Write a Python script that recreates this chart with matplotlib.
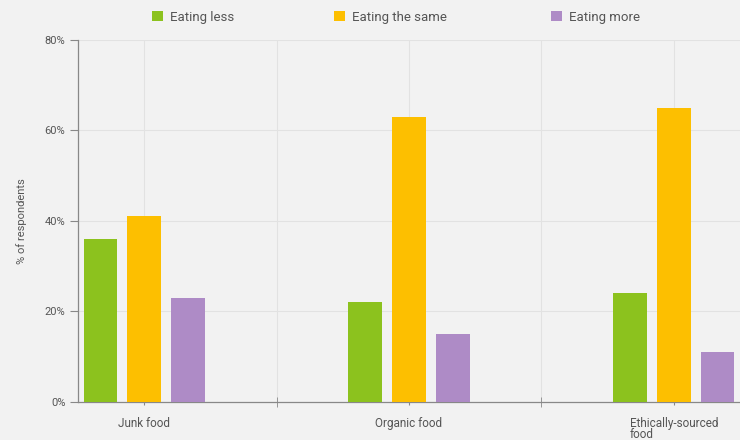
import matplotlib
matplotlib.use("Agg")
import matplotlib.pyplot as plt
import numpy as np

categories = ["Junk food", "Organic food", "Ethically-sourced\nfood"]
series_names = ["Eating less", "Eating the same", "Eating more"]
eating_less = [36, 22, 24]
eating_same = [41, 63, 65]
eating_more = [23, 15, 11]
y_ticks = [0, 20, 40, 60, 80]
y_tick_labels = ["0%", "20%", "40%", "60%", "80%"]

colors = ["#8cc21e", "#fdbf00", "#ae8bc6"]
bg = "#f2f2f2"
text_col = "#555555"

plt.rcParams["font.family"] = ["Roboto", "DejaVu Sans"]

fig = plt.figure(figsize=(7.4, 4.4), dpi=100, facecolor=bg)
ax = fig.add_axes([0.1054, 0.0864, 0.8946, 0.8227], facecolor=bg)

x = np.arange(len(categories))
offsets = [-0.165, 0.0, 0.165]
width = 0.128
handles = []
for vals, off, col, name in zip([eating_less, eating_same, eating_more], offsets, colors, series_names):
    h = ax.bar(x + off, vals, width=width, color=col, label=name, zorder=3)
    handles.append(h)

ax.set_xlim(-0.25, 2.25)
ax.set_ylim(0, 80)

# gridlines: horizontal at y ticks, vertical at category centres and band edges
for yv in y_ticks[1:]:
    ax.axhline(yv, color="#e2e2e2", lw=0.8, zorder=1)
for xv in list(x) + [0.5, 1.5]:
    ax.axvline(xv, color="#e2e2e2", lw=0.8, zorder=1)

ax.set_yticks(y_ticks)
ax.set_yticklabels(y_tick_labels, fontsize=8, color=text_col)
ax.set_xticks(x)
ax.set_xticklabels(categories, fontsize=8.5, color=text_col, linespacing=0.85,
                   multialignment="left")
ax.set_xticks([0.5, 1.5], minor=True)
ax.tick_params(axis="x", which="major", length=5, color="#888888", pad=8, direction="inout")
ax.tick_params(axis="x", which="minor", length=7, color="#888888", direction="inout")
ax.tick_params(axis="y", length=6, color="#888888", pad=3)

for s in ["top", "right"]:
    ax.spines[s].set_visible(False)
for s in ["left", "bottom"]:
    ax.spines[s].set_color("#888888")
    ax.spines[s].set_linewidth(0.9)

ax.set_ylabel("% of respondents", fontsize=8, color=text_col, labelpad=13)

# one legend entry per series, spread across the top
legend_x = [0.206, 0.452, 0.745]
for h, name, lx in zip(handles, series_names, legend_x):
    fig.legend(handles=[h], labels=[name], loc="center left", bbox_to_anchor=(lx, 0.961),
               frameon=False, fontsize=9.5, handlelength=0.8, handleheight=0.8,
               handletextpad=0.55, labelcolor=text_col, borderpad=0, borderaxespad=0)

fig.savefig("out.png", dpi=100, facecolor=bg)
